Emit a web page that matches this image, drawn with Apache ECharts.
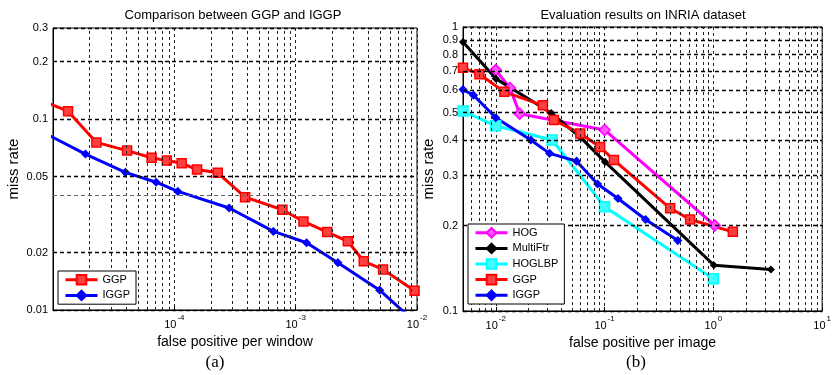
<!DOCTYPE html>
<html>
<head>
<meta charset="utf-8">
<script src="https://cdn.jsdelivr.net/npm/echarts@6/dist/echarts.min.js"></script>
<style>
  html, body { margin: 0; padding: 0; background: #fff; }
  #main { width: 834px; height: 375px; }
</style>
</head>
<body>
<div id="main"></div>
<script>
// (a) false positive per window
const winGgpX = [8e-6, 1.33e-5, 2.28e-5, 4.08e-5, 6.5e-5, 8.67e-5, 1.15e-4, 1.54e-4, 2.28e-4, 3.83e-4, 7.78e-4, 1.16e-3, 1.82e-3, 2.69e-3, 3.64e-3, 5.25e-3, 9.55e-3];
const winGgpY = [0.125, 0.110, 0.0755, 0.0684, 0.0627, 0.0606, 0.0587, 0.0544, 0.0523, 0.039, 0.0335, 0.0291, 0.0256, 0.0229, 0.018, 0.0163, 0.0126];
const winIggpX = [9e-6, 1.85e-5, 3.95e-5, 7.08e-5, 1.07e-4, 2.83e-4, 6.56e-4, 1.23e-3, 2.23e-3, 4.93e-3, 8.8e-3];
const winIggpY = [0.083, 0.0656, 0.0526, 0.0467, 0.0418, 0.0342, 0.0258, 0.0225, 0.0177, 0.0127, 0.0091];

// (b) false positive per image
const hogX = [0.01, 0.0135, 0.0166, 0.1, 1.03];
const hogY = [0.705, 0.61, 0.495, 0.434, 0.2];
const multiX = [0.005, 0.01, 0.0324, 0.0607, 0.101, 1.01, 3.38];
const multiY = [0.885, 0.658, 0.498, 0.407, 0.335, 0.145, 0.140];
const hoglbpX = [0.005, 0.01, 0.033, 0.1, 1.0];
const hoglbpY = [0.506, 0.449, 0.40, 0.233, 0.130];
const imgGgpX = [0.005, 0.00708, 0.012, 0.0271, 0.0342, 0.0598, 0.091, 0.122, 0.401, 0.611, 1.51];
const imgGgpY = [0.718, 0.682, 0.591, 0.530, 0.470, 0.422, 0.378, 0.34, 0.23, 0.21, 0.19];
const imgIggpX = [0.005, 0.00625, 0.01, 0.021, 0.0312, 0.0553, 0.0863, 0.133, 0.238, 0.471];
const imgIggpY = [0.602, 0.575, 0.479, 0.40, 0.359, 0.337, 0.28, 0.249, 0.21, 0.177];

// tick labels shown between the decades
const winYTicks = [0.02, 0.05, 0.2];
const winYMinor = [0.04];
const imgYTicks = [0.2, 0.3, 0.4, 0.5, 0.6, 0.7, 0.8, 0.9];

const FONT = 'Liberation Sans';
const chart = echarts.init(document.getElementById('main'));

const zip = (xs, ys) => xs.map((x, i) => [x, ys[i]]);

// minor vertical grid positions: 2..9 x each decade
function minorLines(decades, from) {
  let out = [];
  decades.forEach(d => {
    for (let m = 2; m <= 9; m++) {
      let v = +(m * d).toPrecision(3);
      if (from === undefined || v > from) out.push({ xAxis: v });
    }
  });
  return out;
}

const majorDash = { color: '#000', width: 1.4, type: [4, 3] };
const minorDash = { color: '#222', width: 1, type: [3, 3] };

function powLabel(v) {
  let e = Math.round(Math.log10(v));
  return '{b|10}{s|' + e + '}';
}
const powRich = {
  b: { fontSize: 11, fontFamily: FONT, color: '#000', lineHeight: 16, verticalAlign: 'bottom' },
  s: { fontSize: 8, fontFamily: FONT, color: '#000', lineHeight: 16, verticalAlign: 'top', padding: [0, 0, 0, 1] }
};

function xAxisLog(grid, min, max, name) {
  return {
    type: 'log', logBase: 10, gridIndex: grid, min: min, max: max,
    name: name, nameLocation: 'middle', nameGap: 24,
    nameTextStyle: { fontSize: 14, fontFamily: FONT, color: '#000' },
    axisLine: { lineStyle: { color: '#000', width: 1 } },
    axisTick: { inside: true, length: 4, lineStyle: { color: '#000' } },
    axisLabel: { formatter: powLabel, rich: powRich, showMinLabel: false, margin: 4 },
    splitLine: { show: true, lineStyle: minorDash }
  };
}

function yAxisLog(grid, min, max, gap) {
  return {
    type: 'log', logBase: 10, gridIndex: grid, min: min, max: max,
    name: 'miss rate', nameLocation: 'middle', nameGap: gap,
    nameTextStyle: { fontSize: 15, fontFamily: FONT, color: '#000' },
    axisLine: { lineStyle: { color: '#000', width: 1 } },
    axisTick: { inside: true, length: 4, lineStyle: { color: '#000' } },
    axisLabel: { fontSize: 11, fontFamily: FONT, color: '#000', margin: 5, formatter: v => String(+v.toPrecision(3)) },
    splitLine: { show: true, lineStyle: majorDash }
  };
}

function gridSeries(xi, vLines, hLabeled, hPlain) {
  let data = vLines.map(d => Object.assign({ lineStyle: minorDash, label: { show: false } }, d));
  hLabeled.forEach(v => data.push({ yAxis: v, lineStyle: majorDash,
    label: { show: true, position: 'start', distance: 5, formatter: String(v), fontSize: 11, fontFamily: FONT, color: '#000' } }));
  hPlain.forEach(v => data.push({ yAxis: v, lineStyle: { color: '#666', width: 1, type: [4, 3] }, label: { show: false } }));
  return {
    type: 'line', xAxisIndex: xi, yAxisIndex: xi, data: [], silent: true, z: 1,
    markLine: { silent: true, precision: 10, symbol: ['none', 'none'], animation: false, data: data }
  };
}

function curve(name, xi, xs, ys, color, symbol, size, fill) {
  return {
    name: name, type: 'line', xAxisIndex: xi, yAxisIndex: xi,
    data: zip(xs, ys), clip: true, z: 3,
    symbol: symbol, symbolSize: size, showAllSymbol: true,
    color: color,
    lineStyle: { color: color, width: 3 },
    itemStyle: { color: fill || color, borderColor: color, borderWidth: 1.5 }
  };
}

const legendBase = {
  orient: 'vertical', itemWidth: 32, itemHeight: 12, itemGap: 4,
  backgroundColor: '#fff', borderColor: '#000', borderWidth: 1, borderRadius: 0,
  padding: [3, 6, 3, 6], selectedMode: false, z: 10,
  lineStyle: { width: 3 },
  textStyle: { fontSize: 11, fontFamily: FONT, color: '#000' }
};

const option = {
  animation: false,
  backgroundColor: '#fff',
  grid: [
    { left: 53, top: 28, width: 364, height: 282, show: true, borderColor: '#000', borderWidth: 1, backgroundColor: 'transparent' },
    { left: 463, top: 27, width: 362, height: 284, show: true, borderColor: '#000', borderWidth: 1, backgroundColor: 'transparent' }
  ],
  xAxis: [
    xAxisLog(0, 1e-5, 1e-2, 'false positive per window'),
    xAxisLog(1, 0.005, 10, 'false positive per image')
  ],
  yAxis: [
    yAxisLog(0, 0.01, 0.3, 32),
    yAxisLog(1, 0.1, 1, 27)
  ],
  legend: [
    Object.assign({}, legendBase, { left: 58, top: 271, data: ['GGP', 'IGGP'] }),
    Object.assign({}, legendBase, { left: 468, top: 224, data: ['HOG', 'MultiFtr', 'HOGLBP', 'GGP', 'IGGP'] })
  ],
  graphic: [
    { type: 'text', x: 233, y: 15, style: { text: 'Comparison between GGP and IGGP', fontSize: 13, fontFamily: FONT, fill: '#000', align: 'center', verticalAlign: 'middle' } },
    { type: 'text', x: 643, y: 15, style: { text: 'Evaluation results on INRIA dataset', fontSize: 13, fontFamily: FONT, fill: '#000', align: 'center', verticalAlign: 'middle' } },
    { type: 'text', x: 215, y: 363, style: { text: '(a)', fontSize: 17, fontFamily: 'Liberation Serif', fill: '#000', align: 'center', verticalAlign: 'middle' } },
    { type: 'text', x: 636, y: 363, style: { text: '(b)', fontSize: 17, fontFamily: 'Liberation Serif', fill: '#000', align: 'center', verticalAlign: 'middle' } }
  ],
  series: [
    gridSeries(0, minorLines([1e-5, 1e-4, 1e-3]), winYTicks, winYMinor),
    gridSeries(1, minorLines([1e-3, 1e-2, 1e-1, 1], 0.005), imgYTicks, []),
    curve('GGP', 0, winGgpX, winGgpY, '#ff0000', 'rect', 9, '#ff4040'),
    curve('IGGP', 0, winIggpX, winIggpY, '#0000ff', 'diamond', 7),
    curve('HOG', 1, hogX, hogY, '#ff00ff', 'diamond', 11, '#ff55ff'),
    curve('MultiFtr', 1, multiX, multiY, '#000000', 'diamond', 6),
    curve('HOGLBP', 1, hoglbpX, hoglbpY, '#00ffff', 'rect', 10, '#40ffff'),
    curve('GGP', 1, imgGgpX, imgGgpY, '#ff0000', 'rect', 9, '#ff4040'),
    curve('IGGP', 1, imgIggpX, imgIggpY, '#0000ff', 'diamond', 7)
  ]
};

chart.setOption(option);
</script>
</body>
</html>
